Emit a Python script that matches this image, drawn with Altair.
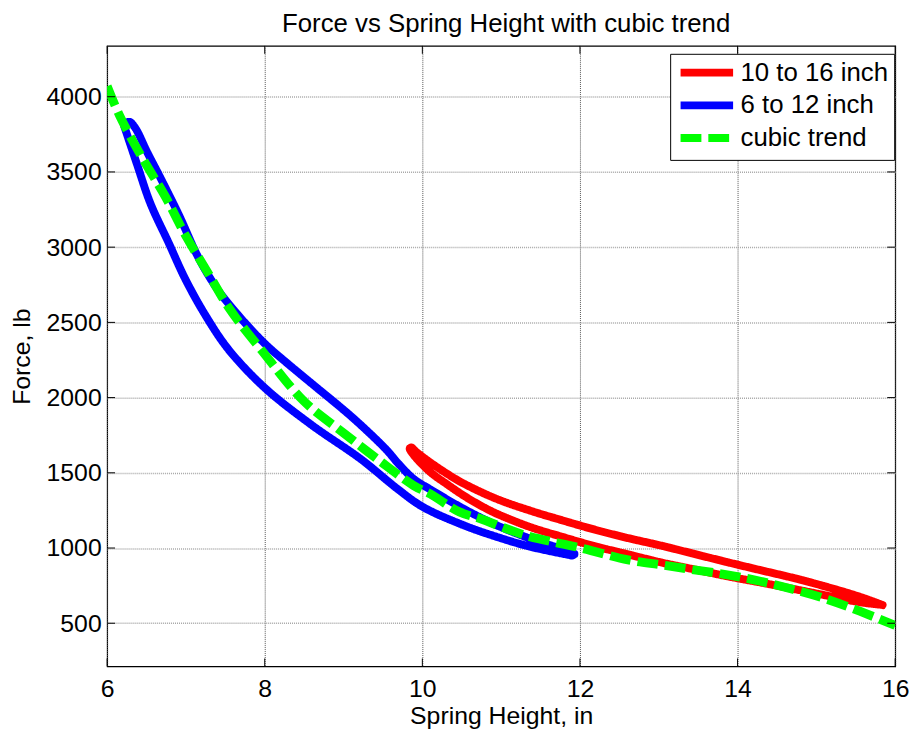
import altair as alt
import pandas as pd

# ---- data ----
chart_title = "Force vs Spring Height with cubic trend"
series_names = ["10 to 16 inch", "6 to 12 inch", "cubic trend"]
series_colors = ["#ff0000", "#0000ff", "#00ff00"]

red_x = [15.84, 15.55, 15.13, 14.71, 14.29, 13.87, 13.45, 13.03, 12.61, 12.19, 11.77, 11.36,
         10.94, 10.52, 10.31, 10.10, 9.92, 9.86, 9.84,
         9.88, 10.10, 10.31, 10.52, 10.73, 10.94, 11.36, 11.77, 12.19, 12.61, 13.03, 13.45,
         13.87, 14.29, 14.71, 15.13, 15.55, 15.82]
red_y = [621, 676, 742, 801, 853, 906, 961, 1016, 1066, 1122, 1185, 1250,
         1327, 1430, 1495, 1569, 1640, 1668, 1662,
         1625, 1505, 1425, 1350, 1285, 1229, 1141, 1075, 1012, 958, 904, 858,
         812, 771, 728, 684, 640, 623]

blue_x = [6.22, 6.25, 6.29, 6.34, 6.39, 6.50, 6.66, 6.91, 7.16, 7.40, 7.66, 8.00, 8.30, 8.59,
          9.13, 9.55, 9.68, 9.89, 10.10, 10.52, 10.94, 11.36, 11.86, 11.93, 11.90,
          11.86, 11.36, 10.94, 10.52, 10.00, 9.68, 9.22, 8.59, 8.00, 7.54, 7.25, 6.99,
          6.78, 6.55, 6.38, 6.22]
blue_y = [3800, 3828, 3832, 3805, 3763, 3640, 3478, 3215, 2929, 2720, 2550, 2359, 2222, 2096,
          1860, 1650, 1570, 1459, 1390, 1262, 1152, 1064, 977, 960, 950,
          954, 1010, 1075, 1152, 1275, 1395, 1591, 1820, 2065, 2320, 2545, 2790,
          3030, 3290, 3550, 3800]

trend_x = [6.00, 6.16, 6.45, 6.74, 6.99, 7.29, 7.56, 7.96, 8.50, 9.00, 9.43, 9.89, 10.10,
           10.47, 10.73, 11.30, 12.03, 12.61, 13.03, 13.45, 13.87, 14.29, 14.71, 15.13,
           15.55, 16.00]
trend_y = [4070, 3873, 3590, 3335, 3083, 2820, 2585, 2315, 1975, 1765, 1591, 1415, 1360,
           1240, 1196, 1086, 998, 921, 888, 855, 822, 779, 724, 660,
           580, 485]

x_ticks = [6, 8, 10, 12, 14, 16]
y_ticks = [500, 1000, 1500, 2000, 2500, 3000, 3500, 4000]

# ---- table ----
rows = []
for name, xs_, ys_ in zip(series_names, [red_x, blue_x, trend_x], [red_y, blue_y, trend_y]):
    for i, (a, b) in enumerate(zip(xs_, ys_)):
        rows.append({"series": name, "h": a, "f": b, "i": i})
df = pd.DataFrame(rows)
xt = pd.DataFrame({"h": x_ticks})
yt = pd.DataFrame({"f": y_ticks})
tt = pd.DataFrame({"t": [chart_title]})

W, H = 795, 626
FONT = "Liberation Sans"

xscale = alt.Scale(domain=[6, 16], nice=False, zero=False)
yscale = alt.Scale(domain=[213, 4338], nice=False, zero=False)

xaxis = alt.Axis(values=x_ticks, title="Spring Height, in", grid=True, ticks=False, domain=False,
                 labelFontSize=25, labelPadding=10, titleFontSize=25, titleFontWeight="normal",
                 titleY=58, titleBaseline="alphabetic", format="d", labelFlush=False)
yaxis = alt.Axis(values=y_ticks, title="Force, lb", grid=True, ticks=False, domain=False,
                 labelFontSize=25, labelPadding=6, titleFontSize=25, titleFontWeight="normal",
                 titleAngle=270, titleX=-78, titleY=H / 2, titleAlign="center",
                 titleBaseline="alphabetic", format="d", labelFlush=False)

X = alt.X("h:Q", scale=xscale, axis=xaxis)
Y = alt.Y("f:Q", scale=yscale, axis=yaxis)

leg = alt.Legend(title=None, orient="none", legendX=568, legendY=8,
                 symbolType="M-3,0L3,0", symbolSize=312, symbolStrokeWidth=8,
                 labelFontSize=26, labelFont=FONT, labelColor="black",
                 strokeColor="black", fillColor="white", padding=6, rowPadding=1,
                 symbolOffset=18, labelOffset=21)

color = alt.Color("series:N", scale=alt.Scale(domain=series_names, range=series_colors), legend=leg)
dash = alt.StrokeDash("series:N",
                      scale=alt.Scale(domain=series_names, range=[[1, 0], [1, 0], [21, 7]]),
                      legend=None)

base = alt.Chart(df)

def line_layer(name, cap, width):
    return base.transform_filter(alt.datum.series == name).mark_line(
        strokeWidth=width, strokeCap=cap, strokeJoin="round", clip=True,
        interpolate="catmull-rom"
    ).encode(x=X, y=Y, color=color, strokeDash=dash, order="i:Q")

red = line_layer(series_names[0], "round", 8)
blue = line_layer(series_names[1], "round", 8)
green = line_layer(series_names[2], "butt", 9)

tick_len = 8
xt_bottom = alt.Chart(xt).mark_rule(color="black", strokeWidth=1).encode(
    x=X, y=alt.value(H), y2=alt.value(H - tick_len))
xt_top = alt.Chart(xt).mark_rule(color="black", strokeWidth=1).encode(
    x=X, y=alt.value(0), y2=alt.value(tick_len))
yt_left = alt.Chart(yt).mark_rule(color="black", strokeWidth=1).encode(
    y=Y, x=alt.value(0), x2=alt.value(tick_len))
yt_right = alt.Chart(yt).mark_rule(color="black", strokeWidth=1).encode(
    y=Y, x=alt.value(W - tick_len), x2=alt.value(W))

title_mark = alt.Chart(tt).mark_text(
    font=FONT, fontSize=26, color="black", align="center", baseline="alphabetic"
).encode(text="t:N", x=alt.value(W / 2 + 5), y=alt.value(-14))

chart = alt.layer(red, blue, green, xt_bottom, xt_top, yt_left, yt_right, title_mark).properties(
    width=W, height=H,
    autosize=alt.AutoSizeParams(type="none"),
    padding={"left": 100, "top": 35, "right": 20, "bottom": 69},
    background="white",
).configure_view(stroke="black", strokeWidth=1.2).configure_axis(
    labelFont=FONT, titleFont=FONT, labelColor="black", titleColor="black",
    gridDash=[1, 1], gridWidth=1
).configure_axisX(gridColor="#555555").configure_axisY(gridColor="#a8a8a8", gridWidth=1.5)

chart.save("out.html", embed_options={"renderer": "svg", "actions": False})
